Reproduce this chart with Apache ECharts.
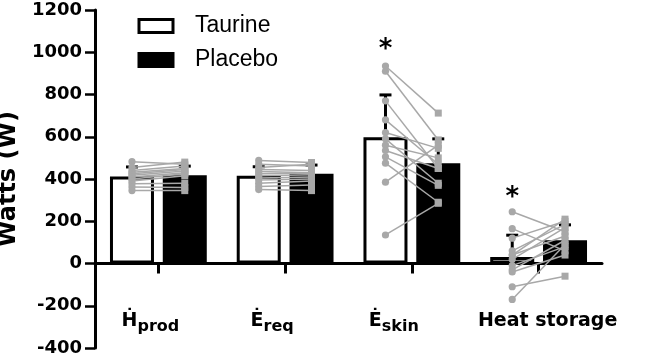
<!DOCTYPE html>
<html><head><meta charset="utf-8">
<script src="https://cdn.jsdelivr.net/npm/echarts@6/dist/echarts.min.js"></script>
<style>html,body{margin:0;padding:0;background:#fff}#c{width:645px;height:358px}</style>
</head><body><div id="c"></div>
<script>
// ---- data ----
const categoryMain = ['Ḣ', 'Ė', 'Ė', 'Heat storage'];
const categorySub = ['prod', 'req', 'skin', ''];
const categories = categoryMain.map((m, i) => m + categorySub[i]);
const seriesNames = ['Taurine', 'Placebo'];
const taurineMean = [412, 415, 598, 31];
const placeboMean = [418, 425, 474, 110];
const taurineSD = [45, 43, 200, 103];
const placeboSD = [43, 41, 116, 73];
const yMin = -400, yMax = 1200, yStep = 200;

const hprodTaurine = [482, 455, 440, 432, 425, 418, 410, 400, 390, 378, 362, 345];
const hprodPlacebo = [470, 480, 462, 450, 445, 438, 430, 425, 415, 380, 360, 345];
const ereqTaurine = [488, 470, 455, 445, 435, 425, 415, 405, 395, 380, 365, 350];
const ereqPlacebo = [478, 462, 470, 440, 430, 428, 420, 410, 400, 390, 372, 345];
const eskinTaurine = [935, 910, 770, 680, 620, 590, 560, 535, 505, 475, 385, 135];
const eskinPlacebo = [712, 585, 450, 470, 545, 380, 500, 450, 370, 290, 560, 285];
const heatTaurine = [245, 165, 120, 60, 40, 40, 20, -10, -30, -40, -110, -170];
const heatPlacebo = [150, 60, 200, 185, 210, 130, 170, 80, 110, 40, -60, 90];

const starCategories = [2, 3];
const starValues = [1031, 332];

// ---- style ----
const BAR_W = 44, BAR_GAP = 0.2;
const GREY = '#a8a8a8';
const BOLD = 'DejaVu Sans';
const labelShift = [-8, -13, -18, 9];

const subjT = [hprodTaurine, ereqTaurine, eskinTaurine, heatTaurine];
const subjP = [hprodPlacebo, ereqPlacebo, eskinPlacebo, heatPlacebo];
const pairData = [];
subjT.forEach((arr, c) => arr.forEach((t, i) => pairData.push([c, t, subjP[c][i]])));
const errData = [];
taurineMean.forEach((m, c) => errData.push([c, m, taurineSD[c], -1]));
placeboMean.forEach((m, c) => errData.push([c, m, placeboSD[c], 1]));
const starData = starCategories.map((c, i) => [c, starValues[i]]);
const OFF = BAR_W / 2 + BAR_W * BAR_GAP / 2;

const rich = {
  m: {fontFamily: BOLD, fontWeight: 'bold', fontSize: 19, lineHeight: 20, verticalAlign: 'top', color: '#000'},
  s: {fontFamily: BOLD, fontWeight: 'bold', fontSize: 16, lineHeight: 30, color: '#000'}
};
labelShift.forEach((d, i) => { rich['g' + i] = {width: Math.abs(2 * d), lineHeight: 20, verticalAlign: 'top', fontSize: 10}; });

const chart = echarts.init(document.getElementById('c'));
chart.setOption({
  animation: false,
  backgroundColor: '#fff',
  grid: {left: 95, right: 43, top: 10, bottom: 10, containLabel: false, outerBoundsMode: 'none'},
  legend: {
    orient: 'vertical', left: 137.5, top: 14.5, padding: 0,
    itemWidth: 34, itemHeight: 13, itemGap: 11, icon: 'rect',
    itemStyle: {borderWidth: 3, borderColor: '#000'},
    textStyle: {fontFamily: 'Liberation Sans', fontSize: 23, lineHeight: 23, color: '#000', padding: [0, 0, 0, 17]},
    data: seriesNames
  },
  xAxis: {
    type: 'category', data: categories,
    axisLine: {onZero: true, lineStyle: {color: '#000', width: 3}},
    axisTick: {show: true, inside: false, interval: 0, alignWithLabel: true, length: 10, lineStyle: {color: '#000', width: 3}},
    axisLabel: {
      margin: -36, interval: 0, rich: rich, hideOverlap: false,
      formatter: (v, idx) => {
        const g = '{g' + idx + '| }';
        const s = '{m|' + categoryMain[idx] + '}' + (categorySub[idx] ? '{s|' + categorySub[idx] + '}' : '');
        return labelShift[idx] < 0 ? s + g : g + s;
      }
    }
  },
  yAxis: {
    type: 'value', min: yMin, max: yMax, interval: yStep,
    splitLine: {show: false},
    axisLine: {show: true, lineStyle: {color: '#000', width: 3}},
    axisTick: {show: true, length: 10, lineStyle: {color: '#000', width: 2.5}},
    axisLabel: {margin: 13, fontFamily: BOLD, fontWeight: 'bold', fontSize: 18, color: '#000', formatter: v => String(v)},
    name: 'Watts (W)', nameLocation: 'middle', nameRotate: 90, nameGap: 66,
    nameTextStyle: {fontFamily: BOLD, fontWeight: 'bold', fontSize: 24, color: '#000'}
  },
  series: [
    {name: seriesNames[0], type: 'bar', data: taurineMean, barWidth: BAR_W, barGap: (BAR_GAP * 100) + '%',
     itemStyle: {color: '#fff', borderColor: '#000', borderWidth: 3}, z: 2},
    {name: seriesNames[1], type: 'bar', data: placeboMean, barWidth: BAR_W, barGap: (BAR_GAP * 100) + '%',
     itemStyle: {color: '#000', borderColor: '#000', borderWidth: 0}, z: 2},
    {type: 'custom', data: errData, z: 3, silent: true,
     renderItem: (p, api) => {
       const c = api.value(0), m = api.value(1), sd = api.value(2), sg = api.value(3);
       const a = api.coord([c, m]), b = api.coord([c, m + sd]);
       const x = a[0] + sg * OFF;
       return {type: 'group', children: [
         {type: 'line', shape: {x1: x, y1: a[1], x2: x, y2: b[1]}, style: {stroke: '#000', lineWidth: 3}},
         {type: 'line', shape: {x1: x - 6, y1: b[1], x2: x + 6, y2: b[1]}, style: {stroke: '#000', lineWidth: 3}}
       ]};
     }},
    {type: 'custom', data: pairData, z: 4, silent: true,
     renderItem: (p, api) => {
       const c = api.value(0);
       const a = api.coord([c, api.value(1)]), b = api.coord([c, api.value(2)]);
       return {type: 'line', shape: {x1: a[0] - OFF, y1: a[1], x2: b[0] + OFF, y2: b[1]}, style: {stroke: GREY, lineWidth: 1.5}};
     }},
    {type: 'custom', data: pairData, z: 5, silent: true,
     renderItem: (p, api) => {
       const c = api.value(0);
       const a = api.coord([c, api.value(1)]), b = api.coord([c, api.value(2)]);
       return {type: 'group', children: [
         {type: 'circle', shape: {cx: a[0] - OFF, cy: a[1], r: 3.6}, style: {fill: GREY}},
         {type: 'rect', shape: {x: b[0] + OFF - 3.5, y: b[1] - 3.5, width: 7, height: 7}, style: {fill: GREY}}
       ]};
     }},
    {type: 'custom', data: starData, z: 6, silent: true,
     renderItem: (p, api) => {
       const a = api.coord([api.value(0), api.value(1)]);
       return {type: 'text', x: a[0] - OFF, y: a[1] + 5,
         style: {text: '*', fontFamily: BOLD, fontWeight: 'bold', fontSize: 26, fill: '#000', align: 'center', verticalAlign: 'middle'}};
     }}
  ]
});
</script></body></html>
